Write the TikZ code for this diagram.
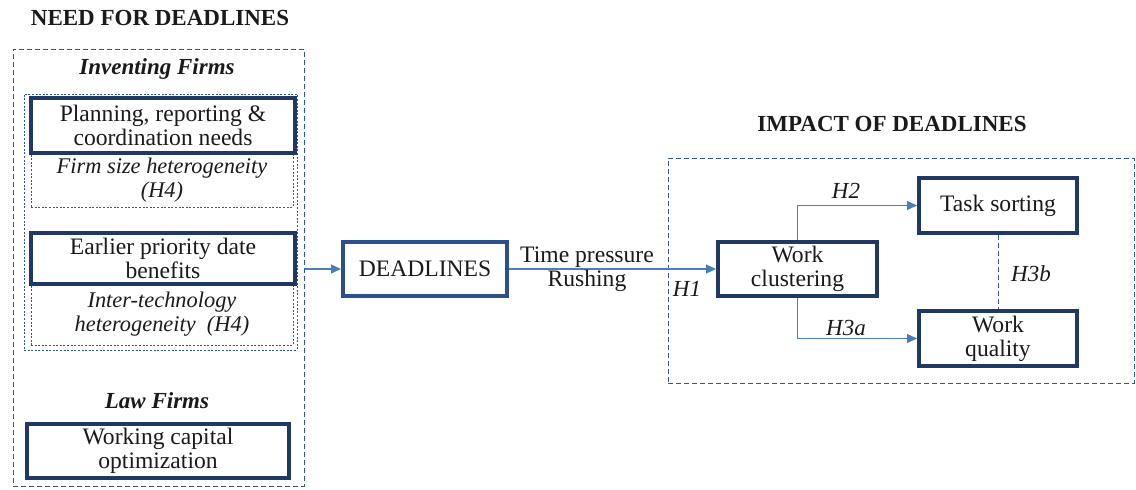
\documentclass[tikz,border=0pt]{standalone}
\usepackage{fontspec}
\setmainfont{Liberation Serif}
\usetikzlibrary{arrows.meta}
\definecolor{navy}{HTML}{1F3864}
\definecolor{arrowblue}{HTML}{4A7EBB}
\definecolor{dashblue}{HTML}{2F5597}
\definecolor{txt}{HTML}{1A1A1A}
\begin{document}
\begin{tikzpicture}[x=0.5pt,y=-0.5pt,
  every node/.style={text=txt},
  mainfont/.style={font=\fontsize{11.8}{12}\selectfont},
  thickbox/.style={mainfont,draw=navy,line width=2pt,fill=white,inner sep=0pt,align=center},
  dotbox/.style={mainfont,draw=dashblue,line width=0.5pt,dash pattern=on 1pt off 0.8pt,inner sep=0pt,align=center},
  dashbox/.style={draw=dashblue,line width=0.5pt,dash pattern=on 2.5pt off 1.5pt,inner sep=0pt},
  titletext/.style={font=\fontsize{11.5}{12}\selectfont\bfseries},
  subtitle/.style={font=\fontsize{11.5}{12}\selectfont\bfseries\itshape},
  lbl/.style={font=\fontsize{11.5}{12}\selectfont\itshape},
  arr/.style={draw=arrowblue,line width=0.6pt,-{Triangle[length=5pt,width=4.5pt]}}
]
\useasboundingbox (0,0) rectangle (1136,489);

% containers
\node[dashbox,minimum width=145.5pt,minimum height=218.5pt] (need) at (158.5,267.5) {};
\node[dotbox,minimum width=136.5pt,minimum height=128pt] (inv) at (160.5,222) {};
\node[dashbox,minimum width=233pt,minimum height=112.5pt] (impact) at (901,270.5) {};

% titles
\node[titletext] (t1) at (160,18) {NEED FOR DEADLINES};
\node[titletext] (t2) at (892,124) {IMPACT OF DEADLINES};
\node[subtitle] (invt) at (157,69) {Inventing Firms};
\node[subtitle] (lawt) at (157,401) {Law Firms};

% left boxes
\node[dotbox,font=\fontsize{11.2}{12}\selectfont\itshape,minimum width=131pt,minimum height=27pt] (fs) at (162,180) {Firm size heterogeneity\\(H4)};
\node[thickbox,minimum width=132pt,minimum height=27.5pt] (plan) at (163,125.5) {Planning, reporting \&\\coordination needs};
\node[dotbox,font=\fontsize{11.2}{12}\selectfont\itshape,minimum width=131pt,minimum height=30.5pt] (it) at (162,314.5) {Inter-technology\\heterogeneity\ \ (H4)};
\node[thickbox,minimum width=132pt,minimum height=25.5pt] (early) at (163,258.5) {Earlier priority date\\benefits};
\node[thickbox,minimum width=131pt,minimum height=27pt] (wc) at (158,451) {Working capital\\optimization};

% middle
\node[thickbox,draw=dashblue!80!navy,minimum width=82pt,minimum height=27pt] (dl) at (425,269) {DEADLINES};

% right
\node[thickbox,minimum width=79.5pt,minimum height=27pt] (clu) at (797.5,269) {Work\\clustering};
\node[thickbox,minimum width=79pt,minimum height=27.5pt] (ts) at (998,205.5) {Task sorting};
\node[thickbox,minimum width=79pt,minimum height=27.5pt] (wq) at (998,338.5) {Work\\quality};

% connectors
\draw[arr] (need.east |- dl.west) -- (dl.west);
\draw[arr] (dl.east) -- (clu.west);
\node[mainfont,align=center] (tp) at (587,269) {Time pressure\\Rushing};
\node[lbl] (h1) at (687,289) {H1};

\draw[arr] (clu.north) |- (ts.west);
\node[lbl] (h2) at (846,191) {H2};
\draw[arr] (clu.south) |- (wq.west);
\node[lbl] (h3a) at (846,328) {H3a};
\draw[draw=dashblue,line width=0.5pt,dash pattern=on 2.5pt off 1.5pt] (ts.south) -- (wq.north);
\node[lbl] (h3b) at (1031,274) {H3b};
\end{tikzpicture}
\end{document}
